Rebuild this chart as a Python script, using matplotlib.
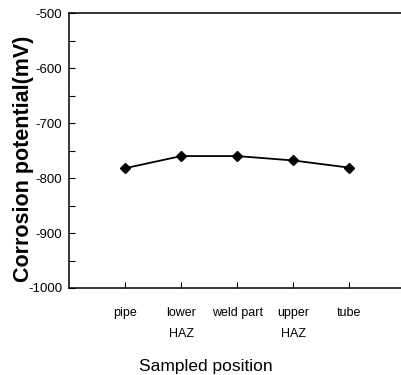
import matplotlib.pyplot as plt
from matplotlib.ticker import MultipleLocator

positions = ["pipe", "lower\nHAZ", "weld part", "upper\nHAZ", "tube"]
potential_mv = [-782, -760, -760, -768, -781]

plt.rcParams['font.family'] = ['Liberation Sans', 'DejaVu Sans']
plt.rcParams['axes.unicode_minus'] = False

fig = plt.figure(figsize=(4.01, 3.75), dpi=100)
ax = fig.add_axes([0.173, 0.232, 0.83, 0.733])

x = list(range(1, len(positions) + 1))
ax.plot(x, potential_mv, color="black", linewidth=1.3, marker="D", markersize=5)

ax.set_xlim(0, 5.95)
ax.set_ylim(-1000, -500)
ax.set_xticks(x)
ax.set_xticklabels(positions, fontsize=9, linespacing=1.9)
ax.yaxis.set_major_locator(MultipleLocator(100))
ax.yaxis.set_minor_locator(MultipleLocator(50))
ax.tick_params(axis="both", which="both", direction="in", length=4, width=0.8)
ax.tick_params(axis="x", pad=14)
ax.tick_params(axis="y", labelsize=9.5, pad=5)
ax.spines["right"].set_visible(False)
for s in ["left", "top", "bottom"]:
    ax.spines[s].set_linewidth(1.1)

ax.set_ylabel("Corrosion potential(mV)", fontsize=15.5, fontweight="bold")
ax.yaxis.set_label_coords(-0.105, 0.47)
ax.set_xlabel("Sampled position", fontsize=12.5)
ax.xaxis.set_label_coords(0.41, -0.258)

fig.savefig("out.png", dpi=100)
